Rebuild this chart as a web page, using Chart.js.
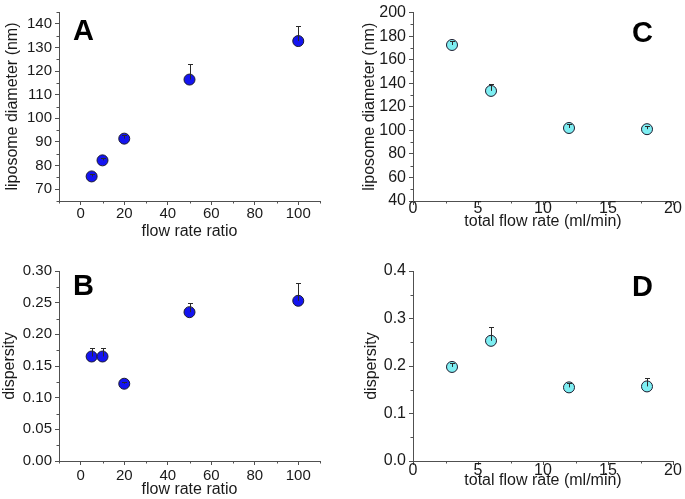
<!DOCTYPE html>
<html>
<head>
<meta charset="utf-8">
<script src="https://cdn.jsdelivr.net/npm/chart.js@4.4.1/dist/chart.umd.min.js"></script>
<style>
  html, body { margin: 0; padding: 0; background: #fff; }
  body { width: 685px; height: 499px; position: relative; overflow: hidden; }
  .panel { position: absolute; }
</style>
</head>
<body>
<div class="panel" style="left:0;top:0;width:342px;height:250px"><canvas id="chartA"></canvas></div>
<div class="panel" style="left:342px;top:0;width:343px;height:250px"><canvas id="chartC"></canvas></div>
<div class="panel" style="left:0;top:250px;width:342px;height:249px"><canvas id="chartB"></canvas></div>
<div class="panel" style="left:342px;top:250px;width:343px;height:249px"><canvas id="chartD"></canvas></div>
<script>
// data
const ratioX = [5, 10, 20, 50, 100];
const diameterA = [75.4, 82.2, 91.4, 116.4, 132.7];
const diameterAErr = [1.2, 0.8, 1.4, 6.6, 6.5];
const dispersityB = [0.165, 0.165, 0.122, 0.235, 0.253];
const dispersityBErr = [0.013, 0.013, 0.003, 0.015, 0.028];

const flowX = [3, 6, 12, 18];
const diameterC = [172.5, 133.5, 102.0, 101.0];
const diameterCErr = [3.5, 6.0, 3.0, 3.0];
const dispersityD = [0.198, 0.253, 0.155, 0.157];
const dispersityDErr = [0.009, 0.030, 0.009, 0.017];

// tick labels
const ratioTicks = [0, 20, 40, 60, 80, 100];
const ratioMinor = [-10, 10, 30, 50, 70, 90, 110];
const flowTicks = [0, 5, 10, 15, 20];
const flowMinor = [2.5, 7.5, 12.5, 17.5];
const diamATicks = [70, 80, 90, 100, 110, 120, 130, 140];
const diamAMinor = [65, 75, 85, 95, 105, 115, 125, 135, 145];
const diamCTicks = [40, 60, 80, 100, 120, 140, 160, 180, 200];
const diamCMinor = [50, 70, 90, 110, 130, 150, 170, 190];
const dispBTicks = [0, 0.05, 0.10, 0.15, 0.20, 0.25, 0.30];
const dispBMinor = [0.025, 0.075, 0.125, 0.175, 0.225, 0.275];
const dispDTicks = [0, 0.1, 0.2, 0.3, 0.4];
const dispDMinor = [0.05, 0.15, 0.25, 0.35];

const FONT = "'Liberation Sans', Arial, sans-serif";
const AXIS_COLOR = '#505050';
const TEXT_COLOR = '#1a1a1a';

// upward-only error bars with a small cap, drawn over the markers
const errorBarPlugin = {
    id: 'errorBars',
    afterDatasetsDraw(chart) {
        const ctx = chart.ctx;
        const xs = chart.scales.x, ys = chart.scales.y;
        chart.data.datasets.forEach(ds => {
            if (!ds.errorBars) return;
            ctx.save();
            ctx.strokeStyle = '#2a2a2a';
            ctx.lineWidth = 1;
            ds.data.forEach((p, i) => {
                const px = Math.round(xs.getPixelForValue(p.x)) + 0.5;
                const y0 = ys.getPixelForValue(p.y);
                const y1 = Math.round(ys.getPixelForValue(p.y + ds.errorBars[i])) + 0.5;
                ctx.beginPath();
                ctx.moveTo(px, y0);
                ctx.lineTo(px, y1);
                ctx.moveTo(px - 2.5, y1);
                ctx.lineTo(px + 2.5, y1);
                ctx.stroke();
            });
            ctx.restore();
        });
    }
};

// minor tick marks and the panel letter
const decorPlugin = {
    id: 'decor',
    afterDraw(chart, args, opts) {
        const ctx = chart.ctx;
        const xs = chart.scales.x, ys = chart.scales.y;
        ctx.save();
        ctx.strokeStyle = AXIS_COLOR;
        ctx.lineWidth = 1;
        ctx.beginPath();
        (opts.minorX || []).forEach(v => {
            const px = Math.round(xs.getPixelForValue(v)) + 0.5;
            ctx.moveTo(px, xs.top);
            ctx.lineTo(px, xs.top + 2.5);
        });
        (opts.minorY || []).forEach(v => {
            const py = Math.round(ys.getPixelForValue(v)) + 0.5;
            ctx.moveTo(ys.right, py);
            ctx.lineTo(ys.right - 2.5, py);
        });
        ctx.stroke();
        if (opts.letter) {
            const area = chart.chartArea;
            ctx.fillStyle = '#000';
            ctx.font = 'bold 29px ' + FONT;
            ctx.textBaseline = 'middle';
            if (opts.side === 'left') {
                ctx.textAlign = 'left';
                ctx.fillText(opts.letter, area.left + opts.dx, area.top + opts.dy);
            } else {
                ctx.textAlign = 'right';
                ctx.fillText(opts.letter, area.right - opts.dx, area.top + opts.dy);
            }
        }
        ctx.restore();
    }
};

function makePanel(cfg) {
    const data = cfg.xs.map((x, i) => ({ x: x, y: cfg.ys[i] }));
    return new Chart(document.getElementById(cfg.id), {
        type: 'scatter',
        data: {
            datasets: [{
                data: data,
                errorBars: cfg.err,
                backgroundColor: cfg.fill,
                borderColor: '#1b1b2e',
                borderWidth: 1,
                pointRadius: 5.5,
                pointHoverRadius: 5.5
            }]
        },
        options: {
            responsive: true,
            maintainAspectRatio: false,
            animation: false,
            layout: { padding: cfg.padding },
            plugins: {
                legend: { display: false },
                tooltip: { enabled: false },
                decor: cfg.decor
            },
            scales: {
                x: {
                    type: 'linear',
                    min: cfg.xMin,
                    max: cfg.xMax,
                    afterBuildTicks: scale => { scale.ticks = cfg.xTicks.map(v => ({ value: v })); },
                    afterFit: scale => { scale.height = cfg.xHeight; },
                    grid: { drawOnChartArea: false, tickLength: 4, color: AXIS_COLOR },
                    border: { color: AXIS_COLOR, width: 1 },
                    ticks: {
                        font: { family: FONT, size: cfg.tickSize },
                        color: TEXT_COLOR,
                        padding: cfg.xTickPad,
                        maxRotation: 0,
                        autoSkip: false
                    },
                    title: {
                        display: true,
                        text: cfg.xTitle,
                        font: { family: FONT, size: cfg.titleSize },
                        color: TEXT_COLOR,
                        padding: { top: 0, bottom: cfg.xTitlePad }
                    }
                },
                y: {
                    type: 'linear',
                    min: cfg.yMin,
                    max: cfg.yMax,
                    afterBuildTicks: scale => { scale.ticks = cfg.yTicks.map(v => ({ value: v })); },
                    afterFit: scale => { scale.width = cfg.yWidth; },
                    grid: { drawOnChartArea: false, tickLength: 4, color: AXIS_COLOR },
                    border: { color: AXIS_COLOR, width: 1 },
                    ticks: {
                        font: { family: FONT, size: cfg.tickSize },
                        color: TEXT_COLOR,
                        padding: 3,
                        autoSkip: false,
                        callback: v => cfg.yFmt(v)
                    },
                    title: {
                        display: true,
                        text: cfg.yTitle,
                        font: { family: FONT, size: cfg.titleSize },
                        color: TEXT_COLOR,
                        padding: { top: cfg.yTitlePad, bottom: 0 }
                    }
                }
            }
        },
        plugins: [errorBarPlugin, decorPlugin]
    });
}

makePanel({
    id: 'chartA', xs: ratioX, ys: diameterA, err: diameterAErr, fill: '#1414f0',
    xMin: -10, xMax: 110, xTicks: ratioTicks, yMin: 65, yMax: 145, yTicks: diamATicks,
    yFmt: v => String(v), xTitle: 'flow rate ratio', yTitle: 'liposome diameter (nm)',
    padding: { top: 12, right: 22, bottom: 0, left: 0 }, yWidth: 59, xHeight: 49,
    tickSize: 15, titleSize: 16, xTickPad: 0, xTitlePad: 9, yTitlePad: 3,
    decor: { minorX: ratioMinor, minorY: diamAMinor, letter: 'A', side: 'left', dx: 14, dy: 20 }
});

makePanel({
    id: 'chartC', xs: flowX, ys: diameterC, err: diameterCErr, fill: '#7eeef2',
    xMin: 0, xMax: 20, xTicks: flowTicks, yMin: 40, yMax: 200, yTicks: diamCTicks,
    yFmt: v => String(v), xTitle: 'total flow rate (ml/min)', yTitle: 'liposome diameter (nm)',
    padding: { top: 11, right: 12, bottom: 0, left: 0 }, yWidth: 71, xHeight: 49,
    tickSize: 16, titleSize: 16, xTickPad: -6, xTitlePad: 19, yTitlePad: 18,
    decor: { minorX: flowMinor, minorY: diamCMinor, letter: 'C', side: 'right', dx: 20, dy: 21 }
});

makePanel({
    id: 'chartB', xs: ratioX, ys: dispersityB, err: dispersityBErr, fill: '#1414f0',
    xMin: -10, xMax: 110, xTicks: ratioTicks, yMin: 0, yMax: 0.30, yTicks: dispBTicks,
    yFmt: v => v.toFixed(2), xTitle: 'flow rate ratio', yTitle: 'dispersity',
    padding: { top: 21, right: 22, bottom: 0, left: 0 }, yWidth: 59, xHeight: 38,
    tickSize: 15, titleSize: 16, xTickPad: 2, xTitlePad: 0, yTitlePad: 0,
    decor: { minorX: ratioMinor, minorY: dispBMinor, letter: 'B', side: 'left', dx: 14, dy: 16 }
});

makePanel({
    id: 'chartD', xs: flowX, ys: dispersityD, err: dispersityDErr, fill: '#7eeef2',
    xMin: 0, xMax: 20, xTicks: flowTicks, yMin: 0, yMax: 0.4, yTicks: dispDTicks,
    yFmt: v => v.toFixed(1), xTitle: 'total flow rate (ml/min)', yTitle: 'dispersity',
    padding: { top: 21, right: 12, bottom: 0, left: 0 }, yWidth: 71, xHeight: 38,
    tickSize: 16, titleSize: 16, xTickPad: -4, xTitlePad: 9, yTitlePad: 20,
    decor: { minorX: flowMinor, minorY: dispDMinor, letter: 'D', side: 'right', dx: 20, dy: 17 }
});
</script>
</body>
</html>
